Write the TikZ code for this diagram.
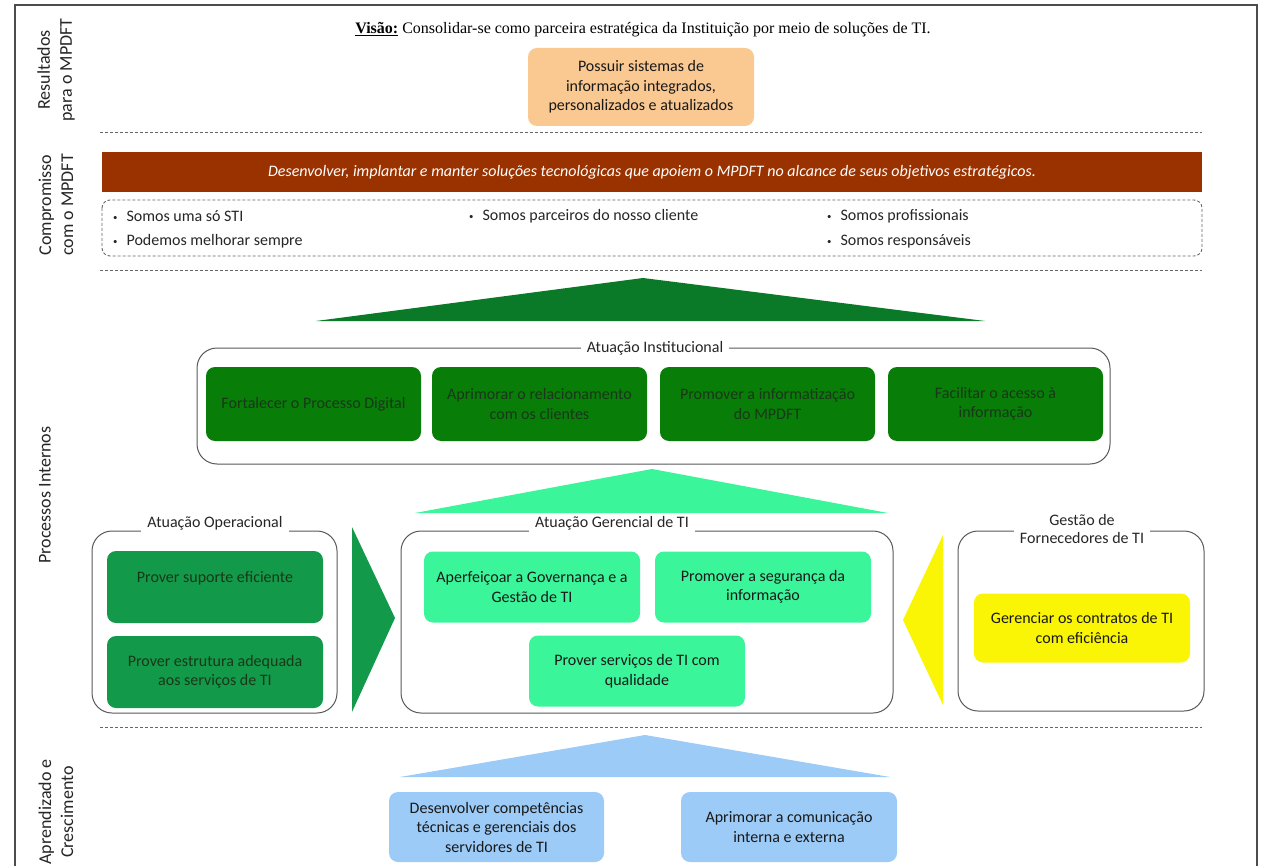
\documentclass[tikz,border=0pt]{standalone}
\usepackage{fontspec}
\setmainfont{Carlito}
\newfontfamily\visaofont{Liberation Serif}
\definecolor{peach}{RGB}{250,200,145}
\definecolor{brownbar}{RGB}{154,50,0}
\definecolor{instgreen}{RGB}{8,125,8}
\definecolor{topgreen}{RGB}{10,122,40}
\definecolor{opgreen}{RGB}{19,153,74}
\definecolor{lightgreen}{RGB}{58,245,154}
\definecolor{yel}{RGB}{250,245,5}
\definecolor{bluebox}{RGB}{156,203,247}
\definecolor{darktext}{RGB}{25,55,25}
\newcommand{\blt}{\raisebox{1pt}{\scalebox{0.55}{\textbullet}}\hspace{9pt}}
\begin{document}
\begin{tikzpicture}[x=1pt,y=-1pt,
  frame/.style={draw=black!65, line width=1pt, rounded corners=20pt},
  sidelbl/.style={font=\fontsize{18}{22}\selectfont, text=black!85, align=center, rotate=90},
  box/.style={rounded corners=9pt, align=center, font=\fontsize{16}{19.5}\selectfont, inner sep=0pt, text=black!90},
  ttl/.style={fill=white, font=\fontsize{16}{18}\selectfont, text=black!85, inner xsep=6pt, inner ysep=2pt, align=center},
  sep/.style={draw=black!60, line width=1pt, dash pattern=on 3pt off 2pt},
  bullet/.style={anchor=west, font=\fontsize{16}{18}\selectfont, text=black!85, inner sep=0pt}
]
\useasboundingbox[fill=white] (0,0) rectangle (1265,866);
% outer frame
\draw[black!70, line width=1.2pt] (15,870) -- (15,5) -- (1257,5) -- (1257,870);
% side labels
\node[sidelbl] (l1) at (56,70) {Resultados\\para o MPDFT};
\node[sidelbl] (l2) at (56,205) {Compromisso\\com o MPDFT};
\node[sidelbl] (l3) at (45,495) {Processos Internos};
\node[sidelbl] (l4) at (56,812) {Aprendizado e\\Crescimento};
% separators
\draw[sep] (100,133) -- (1202,133);
\draw[sep] (100,271) -- (1202,271);
\draw[sep] (100,727) -- (1202,727);
% vision
\node[font=\visaofont\fontsize{16}{18}\selectfont, inner sep=0pt] (visao) at (643,30) {\textbf{\underline{Visão:}} Consolidar-se como parceira estratégica da Instituição por meio de soluções de TI.};
\node[box, fill=peach, minimum width=226pt, minimum height=78pt] (res) at (641,87) {Possuir sistemas de\\informação integrados,\\personalizados e atualizados};
% commitment
\node[fill=brownbar, minimum width=1100pt, minimum height=40pt, inner sep=0pt, text=white, font=\fontsize{16}{18}\selectfont\itshape] (miss) at (652,172) {Desenvolver, implantar e manter soluções tecnológicas que apoiem o MPDFT no alcance de seus objetivos estratégicos.};
\draw[black!60, line width=0.9pt, dash pattern=on 3pt off 2pt, rounded corners=8pt] (102,200) rectangle (1202,256);
\node[bullet] (b1) at (113,216) {\blt Somos uma só STI};
\node[bullet] (b2) at (113,241) {\blt Podemos melhorar sempre};
\node[bullet] (b3) at (469,216) {\blt Somos parceiros do nosso cliente};
\node[bullet] (b4) at (827,216) {\blt Somos profissionais};
\node[bullet] (b5) at (827,241) {\blt Somos responsáveis};
% top triangle
\fill[topgreen] (316,321) -- (643,278) -- (985,321) -- cycle;
% institutional
\draw[frame] (197,348) rectangle (1110,464);
\node[ttl] (tinst) at (655,348) {Atuação Institucional};
\node[box, fill=instgreen, text=darktext, minimum width=215pt, minimum height=74pt] (i1) at (313.5,404) {Fortalecer o Processo Digital};
\node[box, fill=instgreen, text=darktext, minimum width=215pt, minimum height=74pt] (i2) at (539.5,404) {Aprimorar o relacionamento\\com os clientes};
\node[box, fill=instgreen, text=darktext, minimum width=215pt, minimum height=74pt] (i3) at (767.5,404) {Promover a informatização\\do MPDFT};
\node[box, fill=instgreen, text=darktext, minimum width=215pt, minimum height=74pt] (i4) at (995.5,404) {Facilitar o acesso à\\informação};
% light green triangle
\fill[lightgreen] (415,513) -- (652,469) -- (888,513) -- cycle;
% operational
\draw[frame] (92,531) rectangle (337,713);
\node[ttl] (top) at (215,523) {Atuação Operacional};
\node[box, fill=opgreen, text=darktext, minimum width=216pt, minimum height=72pt] (o1) at (215,587) {Prover suporte eficiente\\ \mbox{}};
\node[box, fill=opgreen, text=darktext, minimum width=216pt, minimum height=72pt] (o2) at (215,672) {Prover estrutura adequada\\aos serviços de TI};
\fill[opgreen] (352,527) -- (395,618) -- (352,712) -- cycle;
% managerial
\draw[frame] (401,531) rectangle (893,713);
\node[ttl] (tger) at (612,523) {Atuação Gerencial de TI};
\node[box, fill=lightgreen, minimum width=216pt, minimum height=71pt] (g1) at (532,587) {Aperfeiçoar a Governança e a\\Gestão de TI};
\node[box, fill=lightgreen, minimum width=216pt, minimum height=71pt] (g2) at (763,587) {Promover a segurança da\\informação};
\node[box, fill=lightgreen, minimum width=216pt, minimum height=71pt] (g3) at (637,671) {Prover serviços de TI com\\qualidade};
% yellow triangle
\fill[yel] (943,535) -- (903,620) -- (943,705) -- cycle;
% suppliers
\draw[frame] (958,531) rectangle (1204,711);
\node[ttl] (tfor) at (1082,529) {Gestão de\\Fornecedores de TI};
\node[box, fill=yel, minimum width=216pt, minimum height=69pt] (f1) at (1082,628) {Gerenciar os contratos de TI\\com eficiência};
% learning
\fill[bluebox] (400,777) -- (645,735) -- (890,777) -- cycle;
\node[box, fill=bluebox, minimum width=215pt, minimum height=70pt] (a1) at (496.5,827) {Desenvolver competências\\técnicas e gerenciais dos\\servidores de TI};
\node[box, fill=bluebox, minimum width=216pt, minimum height=70pt] (a2) at (789,827) {Aprimorar a comunicação\\interna e externa};
\end{tikzpicture}
\end{document}
